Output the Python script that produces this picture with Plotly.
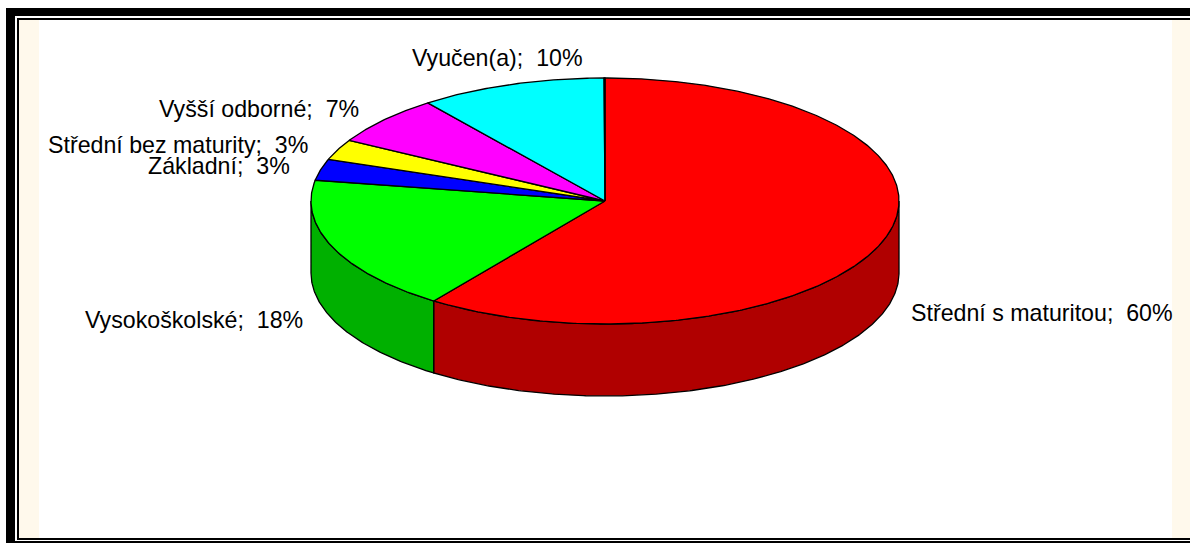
import math
import plotly.graph_objects as go

# ---- data -----------------------------------------------------------------
categories = ["Střední s maturitou", "Vysokoškolské", "Základní",
              "Střední bez maturity", "Vyšší odborné", "Vyučen(a)", "Jiné"]
values = [59.9, 17.8, 2.8, 2.7, 6.5, 10.25, 0.05]
shown_percent = [60, 18, 3, 3, 7, 10, None]
top_colors = ["#FF0000", "#00FF00", "#0000FF", "#FFFF00", "#FF00FF", "#00FFFF", "#808080"]
side_colors = ["#B00000", "#00B000", "#0000B0", "#B0B000", "#B000B0", "#00B0B0", "#505050"]

# ---- layout of the 3-D pie (pixels of the 1190x543 page) -------------------
W, H = 1190, 543
CX, CY, RX, RY, DEPTH = 605.0, 201.0, 294.0, 123.0, 72.0
D = DEPTH / RY
FONT = dict(family="Liberation Sans, Arial, sans-serif", size=23.2, color="#000000")
label_pos = {  # pixel anchor (x of the anchor side, y centre), anchor side
    "Střední s maturitou": (911, 313, "left"),
    "Vysokoškolské": (303, 320, "right"),
    "Základní": (290, 166, "right"),
    "Střední bez maturity": (308, 145, "right"),
    "Vyšší odborné": (359, 109, "right"),
    "Vyučen(a)": (583, 58, "right"),
}


def arc(a0, a1, dy=0.0):
    n = max(2, int(abs(a1 - a0) * 120) + 2)
    ang = [a0 + (a1 - a0) * i / (n - 1) for i in range(n)]
    return [math.sin(a) for a in ang], [math.cos(a) - dy for a in ang]


fig = go.Figure()
total = sum(values)
edges = [0.0]
for v in values:
    edges.append(edges[-1] + v / total * 2 * math.pi)

# side walls: only the front half of the rim (angles pi/2 .. 3pi/2) is visible
for i in range(len(values)):
    a0, a1 = max(edges[i], math.pi / 2), min(edges[i + 1], 3 * math.pi / 2)
    if a1 <= a0:
        continue
    x1, y1 = arc(a0, a1)
    x2, y2 = arc(a1, a0, D)
    fig.add_trace(go.Scatter(
        x=x1 + x2 + x1[:1], y=y1 + y2 + y1[:1], mode="lines", fill="toself",
        fillcolor=side_colors[i], line=dict(color="#000000", width=1.3),
        hoverinfo="skip", showlegend=False))

# top faces
for i, name in enumerate(categories):
    x1, y1 = arc(edges[i], edges[i + 1])
    fig.add_trace(go.Scatter(
        x=[0] + x1 + [0], y=[0] + y1 + [0], mode="lines", fill="toself",
        fillcolor=top_colors[i], line=dict(color="#000000", width=1.3),
        name=name, showlegend=False))

annotations = []
for name, pct in zip(categories, shown_percent):
    if pct is None:
        continue
    px, py, side = label_pos[name]
    annotations.append(dict(
        x=px, y=py, xref="x2", yref="y2", text=f"{name};  {pct}%", showarrow=False,
        xanchor=side, yanchor="middle", font=FONT, borderpad=0, borderwidth=0))

def rect(x0, y0, x1, y1, color):
    return dict(type="rect", xref="paper", yref="paper", layer="below",
                x0=x0 / W, x1=x1 / W, y0=1 - y1 / H, y1=1 - y0 / H,
                fillcolor=color, line=dict(width=0))

CREAM = "#FFF9EC"
shapes = [
    rect(19, 20, 39, 538, CREAM),
    rect(1172, 20, 1190, 538, CREAM),
    rect(6, 8, 1190, 16, "#000000"),
    rect(17, 18, 1190, 20, "#000000"),
    rect(6, 8, 15, 543, "#000000"),
    rect(17, 18, 19, 540, "#000000"),
    rect(17, 538, 1190, 540, "#000000"),
    rect(15, 541, 1190, 543, "#000000"),
]

fig.update_layout(
    width=W, height=H, autosize=False, margin=dict(l=0, r=0, t=0, b=0),
    paper_bgcolor="#FFFFFF", plot_bgcolor="rgba(0,0,0,0)",
    xaxis=dict(range=[(0 - CX) / RX, (W - CX) / RX], visible=False, fixedrange=True),
    yaxis=dict(range=[(CY - H) / RY, CY / RY], visible=False, fixedrange=True),
    xaxis2=dict(range=[0, W], visible=False, overlaying="x", fixedrange=True),
    yaxis2=dict(range=[H, 0], visible=False, overlaying="y", fixedrange=True),
    annotations=annotations, shapes=shapes, font=FONT,
)
# invisible trace so that the label axes exist
fig.add_trace(go.Scatter(x=[0], y=[0], xaxis="x2", yaxis="y2", mode="markers",
                         marker=dict(opacity=0), hoverinfo="skip", showlegend=False))
fig.write_html("out.html", config=dict(displayModeBar=False),
               post_script="document.body.style.margin='0';document.documentElement.style.overflow='hidden';")
